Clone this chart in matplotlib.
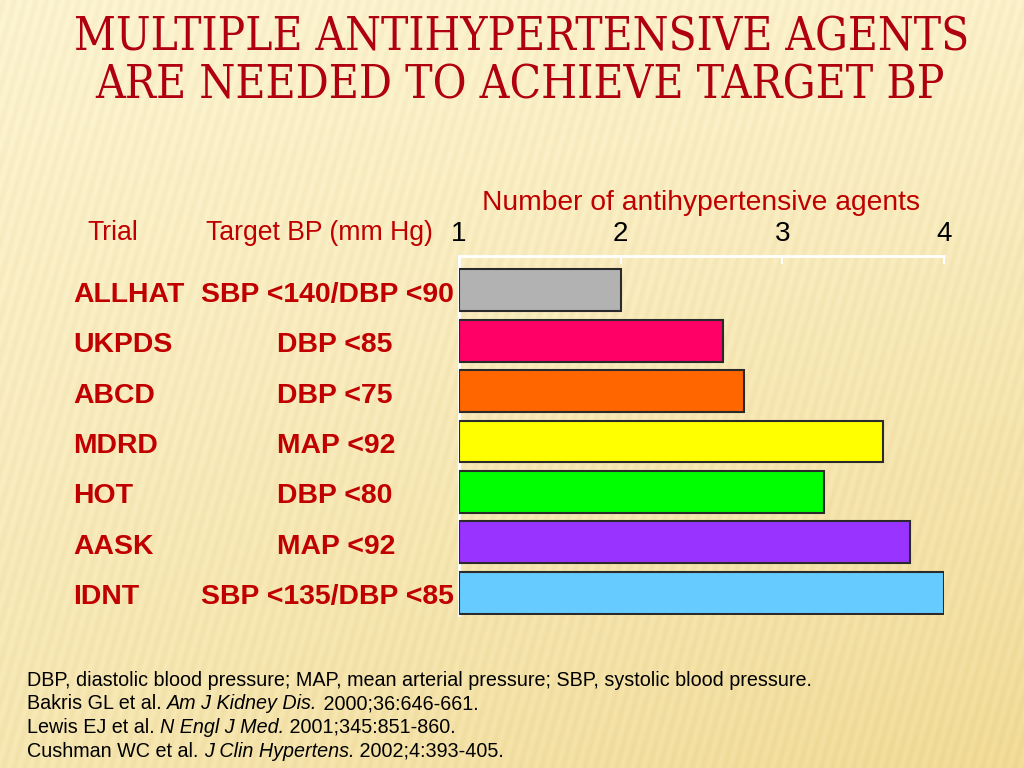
import numpy as np
import matplotlib
matplotlib.use("Agg")
import matplotlib.pyplot as plt
import matplotlib.transforms as mtransforms

# ---- data ----
trials = ["ALLHAT", "UKPDS", "ABCD", "MDRD", "HOT", "AASK", "IDNT"]
targets = ["SBP <140/DBP <90", "DBP <85", "DBP <75", "MAP <92", "DBP <80", "MAP <92", "SBP <135/DBP <85"]
agents = [2.0, 2.63, 2.76, 3.62, 3.26, 3.79, 4.0]
bar_colors = ["#B2B2B2", "#FF0066", "#FF6600", "#FFFF00", "#00FF00", "#9933FF", "#66CCFF"]
ticks = [1, 2, 3, 4]
title_lines = ["MULTIPLE ANTIHYPERTENSIVE AGENTS", "ARE NEEDED TO ACHIEVE TARGET BP"]
axis_title = "Number of antihypertensive agents"
col_heads = ["Trial", "Target BP (mm Hg)"]
footnotes = [
    [("DBP, diastolic blood pressure; MAP, mean arterial pressure; SBP, systolic blood pressure.", False)],
    [("Bakris GL et al. ", False), ("Am J Kidney Dis.", True), (" 2000;36:646-661.", False)],
    [("Lewis EJ et al. ", False), ("N Engl J Med.", True), (" 2001;345:851-860.", False)],
    [("Cushman WC et al. ", False), ("J Clin Hypertens.", True), (" 2002;4:393-405.", False)],
]

RED = "#C00000"
W, H = 1024, 768
fig = plt.figure(figsize=(W / 100, H / 100), dpi=100)

# background gradient with faint stripes
bg = fig.add_axes([0, 0, 1, 1], zorder=-10)
yy, xx = np.mgrid[0:1:384j, 0:1:512j]
t = np.clip(0.55 * yy + 0.35 * xx * yy + 0.1 * xx, 0, 1)
c0 = np.array([251, 242, 206]) / 255.0
c1 = np.array([240, 218, 150]) / 255.0
img = c0[None, None, :] * (1 - t[..., None]) + c1[None, None, :] * t[..., None]
stripe = 0.018 * np.sin(2 * np.pi * (xx * 95 + yy * 20))
img = np.clip(img - stripe[..., None] * np.array([0.6, 0.8, 1.2]), 0, 1)
bg.imshow(img, aspect="auto", extent=[0, 1, 0, 1], origin="upper", interpolation="bilinear")
bg.set_axis_off()

def px(x, y):
    return x / W, 1 - y / H

# main bar axes
ax = fig.add_axes([459 / W, 1 - 615 / H, (944 - 459) / W, (615 - 255.5) / H])
ax.patch.set_alpha(0)
ypos = np.arange(len(trials))
widths = [a - 1 for a in agents]
ax.barh(ypos, widths, left=1, height=0.83, color=bar_colors, edgecolor="#2a2a2a", linewidth=1.5, zorder=3)
ax.set_xlim(1, 4)
ax.set_ylim(6.44, -0.69)
ax.set_yticks([])
ax.set_xticks(ticks)
ax.xaxis.set_ticks_position("top")
ax.xaxis.set_label_position("top")
ax.tick_params(axis="x", direction="in", length=6, width=1.5, color="white",
               labelsize=20, labelcolor="black", pad=6)
for lbl in ax.get_xticklabels():
    lbl.set_fontfamily("Liberation Sans")
for s in ["right", "bottom"]:
    ax.spines[s].set_visible(False)
for s in ["top", "left"]:
    ax.spines[s].set_color("white")
    ax.spines[s].set_linewidth(2)
ax.set_xlabel(axis_title, fontsize=20.3, color=RED, family="Liberation Sans", labelpad=8)

# column headers
fig.text(*px(113, 233), col_heads[0], ha="center", va="center", fontsize=19.2, color=RED, family="Liberation Sans")
fig.text(*px(319, 233), col_heads[1], ha="center", va="center", fontsize=19.2, color=RED, family="Liberation Sans")

# row labels (baseline ~12 px below bar centre)
row_tr = mtransforms.blended_transform_factory(fig.transFigure, ax.transData) + \
    mtransforms.ScaledTranslation(0, -11.5 / 100, fig.dpi_scale_trans)
for i, (tr, tg) in enumerate(zip(trials, targets)):
    fig.text(73 / W, i, tr, transform=row_tr, ha="left", va="baseline", fontsize=20.4,
             fontweight="bold", color=RED, family="Liberation Sans")
    xt = 201 if tg.startswith("SBP") else 277
    fig.text(xt / W, i, tg, transform=row_tr, ha="left", va="baseline", fontsize=20.4,
             fontweight="bold", color=RED, family="Liberation Sans")

# title, fit to width
renderer = fig.canvas.get_renderer()
title_spec = [(522, 38, 895), (520, 86, 850)]
for line, (cx, cy, wpx) in zip(title_lines, title_spec):
    tt = fig.text(*px(cx, cy), line, ha="center", va="center", fontsize=40, color="#B00010",
                  family="DejaVu Serif", fontstretch="condensed")
    bb = tt.get_window_extent(renderer)
    tt.set_fontsize(40 * wpx / bb.width)

# footnotes: fit first line width to reference
fn_family = ["Liberation Sans Narrow", "Liberation Sans"]
probe = fig.text(0, 0, footnotes[0][0][0], fontsize=12, family=fn_family)
fn_size = 12 * 785 / probe.get_window_extent(renderer).width
probe.remove()
for k, pieces in enumerate(footnotes):
    x = 27
    y = 680 + k * 23.7
    for txt, ital in pieces:
        tx = fig.text(*px(x, y), txt, ha="left", va="center", fontsize=fn_size, color="black",
                      family=fn_family, style="italic" if ital else "normal")
        bb = tx.get_window_extent(renderer)
        x += bb.width

fig.savefig("out.png", dpi=100)
